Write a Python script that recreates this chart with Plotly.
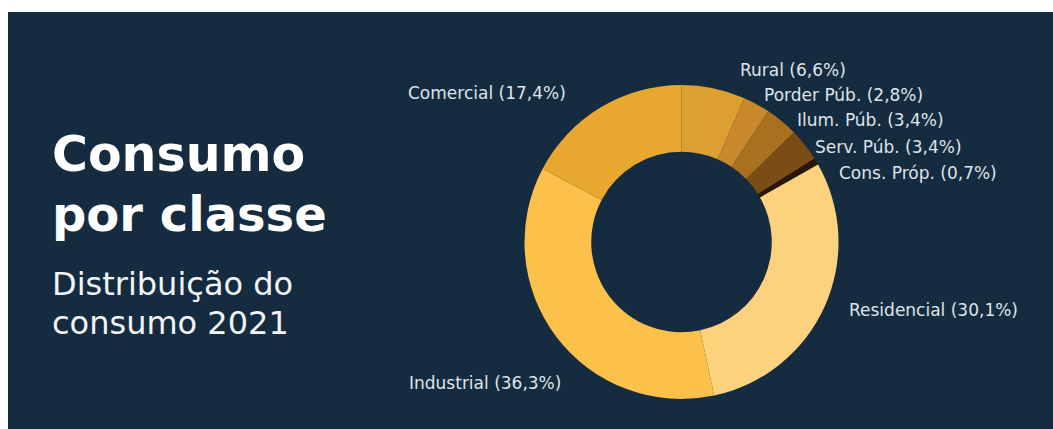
import plotly.graph_objects as go

# Consumption share by class, 2021 (%)
classes = ["Rural", "Porder Púb.", "Ilum. Púb.", "Serv. Púb.", "Cons. Próp.",
           "Residencial", "Industrial", "Comercial"]
shares = [6.6, 2.8, 3.4, 3.4, 0.7, 30.1, 36.3, 17.4]
slice_colors = ["#dca031", "#c9892a", "#a9711f", "#7b4d16", "#2a1606",
                "#fdd27f", "#fbc14b", "#e8a82f"]

W, H = 1053, 429
BG = "#152b40"
FONT = "DejaVu Sans"

def px(x):
    return x / W

def py(y):
    return 1 - y / H

# donut geometry in pixels
cx, cy, R = 681.5, 242, 157

fig = go.Figure()
fig.add_trace(go.Pie(
    labels=classes,
    values=shares,
    marker=dict(colors=slice_colors, line=dict(width=0)),
    hole=0.575,
    sort=False,
    direction="clockwise",
    rotation=0,
    textinfo="none",
    hoverinfo="label+percent",
    showlegend=False,
    domain=dict(x=[px(cx - R), px(cx + R)], y=[py(cy + R), py(cy - R)]),
))

# label anchors: (x, y, xanchor)
label_pos = {
    "Rural": (738, 70, "left"),
    "Porder Púb.": (762, 95, "left"),
    "Ilum. Púb.": (795, 120, "left"),
    "Serv. Púb.": (813, 147, "left"),
    "Cons. Próp.": (837, 173, "left"),
    "Residencial": (847, 310, "left"),
    "Industrial": (563, 383, "right"),
    "Comercial": (568, 93, "right"),
}

annotations = []
for name, val in zip(classes, shares):
    x, y, anchor = label_pos[name]
    txt = f"{name} ({str(val).replace('.', ',')}%)"
    annotations.append(dict(
        x=px(x), y=py(y), xref="paper", yref="paper",
        text=txt, showarrow=False, xanchor=anchor, yanchor="middle",
        font=dict(family=FONT, size=17, color="#dfe4ea"),
    ))

# heading block
annotations += [
    dict(x=px(50), y=py(154), xref="paper", yref="paper", text="Consumo",
         showarrow=False, xanchor="left", yanchor="middle",
         font=dict(family=FONT, size=49, color="#ffffff", weight=700)),
    dict(x=px(50), y=py(214), xref="paper", yref="paper", text="por classe",
         showarrow=False, xanchor="left", yanchor="middle",
         font=dict(family=FONT, size=48, color="#ffffff", weight=700)),
    dict(x=px(50), y=py(284), xref="paper", yref="paper", text="Distribuição do",
         showarrow=False, xanchor="left", yanchor="middle",
         font=dict(family=FONT, size=32, color="#f2f4f6")),
    dict(x=px(50), y=py(323), xref="paper", yref="paper", text="consumo 2021",
         showarrow=False, xanchor="left", yanchor="middle",
         font=dict(family=FONT, size=32, color="#f2f4f6")),
]

fig.update_layout(
    width=W, height=H,
    margin=dict(l=0, r=0, t=0, b=0),
    paper_bgcolor="#ffffff",
    plot_bgcolor="#ffffff",
    shapes=[dict(type="rect", xref="paper", yref="paper",
                 x0=px(8), x1=1, y0=0, y1=py(12),
                 fillcolor=BG, line=dict(width=0), layer="below")],
    annotations=annotations,
)

fig.write_html("out.html")
